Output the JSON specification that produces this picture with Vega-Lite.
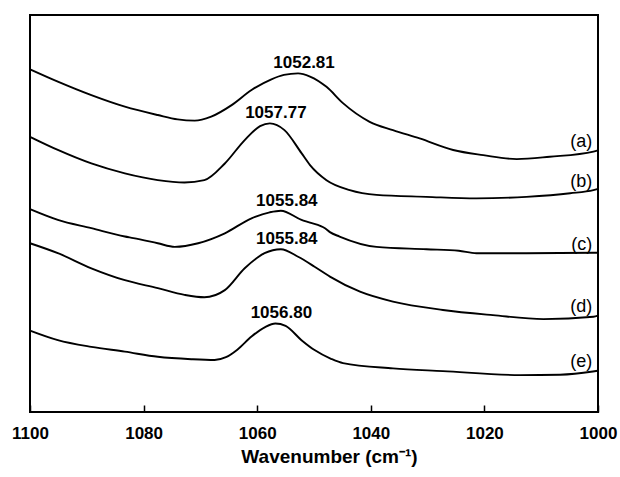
{
  "$schema": "https://vega.github.io/schema/vega-lite/v6.json",
  "width": 568,
  "height": 397,
  "autosize": {"type": "none"},
  "padding": {"left": 30, "top": 15, "right": 22, "bottom": 65},
  "background": "white",
  "config": {
    "font": "Liberation Sans",
    "view": {"stroke": "black", "strokeWidth": 2}
  },
  "datasets": {
    "spectra": [
      {"curve": "a", "wn": 1100.0, "A": 0.863},
      {"curve": "a", "wn": 1095.1, "A": 0.832},
      {"curve": "a", "wn": 1089.2, "A": 0.798},
      {"curve": "a", "wn": 1083.3, "A": 0.769},
      {"curve": "a", "wn": 1077.5, "A": 0.748},
      {"curve": "a", "wn": 1074.0, "A": 0.737},
      {"curve": "a", "wn": 1071.0, "A": 0.734},
      {"curve": "a", "wn": 1068.1, "A": 0.744},
      {"curve": "a", "wn": 1064.5, "A": 0.773},
      {"curve": "a", "wn": 1061.0, "A": 0.811},
      {"curve": "a", "wn": 1057.5, "A": 0.838},
      {"curve": "a", "wn": 1055.3, "A": 0.849},
      {"curve": "a", "wn": 1052.81, "A": 0.853},
      {"curve": "a", "wn": 1050.7, "A": 0.845},
      {"curve": "a", "wn": 1047.8, "A": 0.819},
      {"curve": "a", "wn": 1044.9, "A": 0.778},
      {"curve": "a", "wn": 1040.2, "A": 0.731},
      {"curve": "a", "wn": 1036.1, "A": 0.710},
      {"curve": "a", "wn": 1031.4, "A": 0.689},
      {"curve": "a", "wn": 1025.5, "A": 0.660},
      {"curve": "a", "wn": 1020.2, "A": 0.647},
      {"curve": "a", "wn": 1014.3, "A": 0.637},
      {"curve": "a", "wn": 1008.5, "A": 0.643},
      {"curve": "a", "wn": 1000.8, "A": 0.656},
      {"curve": "a", "wn": 1000.0, "A": 0.659},

      {"curve": "b", "wn": 1100.0, "A": 0.693},
      {"curve": "b", "wn": 1095.1, "A": 0.660},
      {"curve": "b", "wn": 1089.2, "A": 0.626},
      {"curve": "b", "wn": 1083.3, "A": 0.601},
      {"curve": "b", "wn": 1077.5, "A": 0.584},
      {"curve": "b", "wn": 1072.8, "A": 0.578},
      {"curve": "b", "wn": 1069.3, "A": 0.584},
      {"curve": "b", "wn": 1065.7, "A": 0.626},
      {"curve": "b", "wn": 1062.2, "A": 0.685},
      {"curve": "b", "wn": 1059.5, "A": 0.720},
      {"curve": "b", "wn": 1057.77, "A": 0.727},
      {"curve": "b", "wn": 1055.2, "A": 0.710},
      {"curve": "b", "wn": 1052.2, "A": 0.652},
      {"curve": "b", "wn": 1050.7, "A": 0.622},
      {"curve": "b", "wn": 1047.8, "A": 0.584},
      {"curve": "b", "wn": 1043.7, "A": 0.559},
      {"curve": "b", "wn": 1039.0, "A": 0.547},
      {"curve": "b", "wn": 1030.2, "A": 0.542},
      {"curve": "b", "wn": 1021.4, "A": 0.538},
      {"curve": "b", "wn": 1012.6, "A": 0.542},
      {"curve": "b", "wn": 1004.9, "A": 0.551},
      {"curve": "b", "wn": 1000.8, "A": 0.559},
      {"curve": "b", "wn": 1000.0, "A": 0.562},

      {"curve": "c", "wn": 1100.0, "A": 0.511},
      {"curve": "c", "wn": 1095.1, "A": 0.484},
      {"curve": "c", "wn": 1089.2, "A": 0.463},
      {"curve": "c", "wn": 1083.3, "A": 0.442},
      {"curve": "c", "wn": 1081.8, "A": 0.438},
      {"curve": "c", "wn": 1077.5, "A": 0.425},
      {"curve": "c", "wn": 1074.5, "A": 0.416},
      {"curve": "c", "wn": 1070.4, "A": 0.425},
      {"curve": "c", "wn": 1065.7, "A": 0.450},
      {"curve": "c", "wn": 1061.0, "A": 0.488},
      {"curve": "c", "wn": 1057.8, "A": 0.503},
      {"curve": "c", "wn": 1055.84, "A": 0.507},
      {"curve": "c", "wn": 1052.2, "A": 0.484},
      {"curve": "c", "wn": 1050.7, "A": 0.477},
      {"curve": "c", "wn": 1048.0, "A": 0.462},
      {"curve": "c", "wn": 1047.2, "A": 0.453},
      {"curve": "c", "wn": 1045.5, "A": 0.442},
      {"curve": "c", "wn": 1039.0, "A": 0.416},
      {"curve": "c", "wn": 1030.2, "A": 0.410},
      {"curve": "c", "wn": 1024.5, "A": 0.406},
      {"curve": "c", "wn": 1021.4, "A": 0.400},
      {"curve": "c", "wn": 1012.6, "A": 0.400},
      {"curve": "c", "wn": 1000.8, "A": 0.401},
      {"curve": "c", "wn": 1000.0, "A": 0.401},

      {"curve": "d", "wn": 1100.0, "A": 0.425},
      {"curve": "d", "wn": 1095.1, "A": 0.400},
      {"curve": "d", "wn": 1089.2, "A": 0.362},
      {"curve": "d", "wn": 1083.3, "A": 0.332},
      {"curve": "d", "wn": 1077.5, "A": 0.312},
      {"curve": "d", "wn": 1072.8, "A": 0.295},
      {"curve": "d", "wn": 1069.3, "A": 0.289},
      {"curve": "d", "wn": 1065.7, "A": 0.307},
      {"curve": "d", "wn": 1062.2, "A": 0.362},
      {"curve": "d", "wn": 1058.7, "A": 0.400},
      {"curve": "d", "wn": 1055.84, "A": 0.410},
      {"curve": "d", "wn": 1052.8, "A": 0.391},
      {"curve": "d", "wn": 1049.9, "A": 0.366},
      {"curve": "d", "wn": 1047.2, "A": 0.341},
      {"curve": "d", "wn": 1041.9, "A": 0.303},
      {"curve": "d", "wn": 1036.1, "A": 0.278},
      {"curve": "d", "wn": 1027.3, "A": 0.257},
      {"curve": "d", "wn": 1018.5, "A": 0.244},
      {"curve": "d", "wn": 1009.6, "A": 0.234},
      {"curve": "d", "wn": 1000.8, "A": 0.240},
      {"curve": "d", "wn": 1000.0, "A": 0.243},

      {"curve": "e", "wn": 1100.0, "A": 0.205},
      {"curve": "e", "wn": 1095.1, "A": 0.181},
      {"curve": "e", "wn": 1089.2, "A": 0.164},
      {"curve": "e", "wn": 1083.3, "A": 0.152},
      {"curve": "e", "wn": 1077.5, "A": 0.139},
      {"curve": "e", "wn": 1071.6, "A": 0.133},
      {"curve": "e", "wn": 1067.5, "A": 0.131},
      {"curve": "e", "wn": 1065.5, "A": 0.138},
      {"curve": "e", "wn": 1063.5, "A": 0.157},
      {"curve": "e", "wn": 1061.0, "A": 0.190},
      {"curve": "e", "wn": 1058.6, "A": 0.214},
      {"curve": "e", "wn": 1056.8, "A": 0.223},
      {"curve": "e", "wn": 1055.0, "A": 0.217},
      {"curve": "e", "wn": 1052.2, "A": 0.181},
      {"curve": "e", "wn": 1049.9, "A": 0.156},
      {"curve": "e", "wn": 1047.0, "A": 0.134},
      {"curve": "e", "wn": 1044.9, "A": 0.123},
      {"curve": "e", "wn": 1036.1, "A": 0.110},
      {"curve": "e", "wn": 1027.3, "A": 0.103},
      {"curve": "e", "wn": 1013.7, "A": 0.093},
      {"curve": "e", "wn": 1006.7, "A": 0.094},
      {"curve": "e", "wn": 1000.9, "A": 0.102},
      {"curve": "e", "wn": 1000.0, "A": 0.104}
    ],
    "peaks": [
      {"curve": "a", "peak": 1052.81, "A": 0.853},
      {"curve": "b", "peak": 1057.77, "A": 0.727},
      {"curve": "c", "peak": 1055.84, "A": 0.507},
      {"curve": "d", "peak": 1055.84, "A": 0.410},
      {"curve": "e", "peak": 1056.80, "A": 0.223}
    ],
    "tags": [
      {"tag": "(a)", "wn": 1001, "A": 0.681},
      {"tag": "(b)", "wn": 1001, "A": 0.580},
      {"tag": "(c)", "wn": 1001, "A": 0.421},
      {"tag": "(d)", "wn": 1001, "A": 0.265},
      {"tag": "(e)", "wn": 1001, "A": 0.127}
    ]
  },
  "layer": [
    {
      "data": {"name": "spectra"},
      "mark": {"type": "line", "interpolate": "monotone", "color": "black", "strokeWidth": 1.9},
      "encoding": {
        "x": {
          "field": "wn",
          "type": "quantitative",
          "scale": {"domain": [1000, 1100], "reverse": true, "nice": false, "zero": false},
          "axis": {
            "values": [1100, 1080, 1060, 1040, 1020, 1000],
            "format": "d",
            "domain": false,
            "grid": false,
            "tickSize": -7,
            "tickWidth": 1.5,
            "tickColor": "black",
            "labelPadding": 20,
            "labelFontSize": 17,
            "labelFontWeight": "bold",
            "labelColor": "black",
            "labelFlush": false,
            "labelOverlap": false,
            "title": "Wavenumber (cm⁻¹)",
            "titleFontSize": 19,
            "titleFontWeight": "bold",
            "titleColor": "black",
            "titleAlign": "center",
            "titleBaseline": "alphabetic",
            "titleX": 299,
            "titleY": 50
          }
        },
        "y": {
          "field": "A",
          "type": "quantitative",
          "scale": {"domain": [0, 1], "nice": false, "zero": false},
          "axis": null
        },
        "detail": {"field": "curve"}
      }
    },
    {
      "data": {"name": "peaks"},
      "mark": {"type": "text", "fontSize": 17, "fontWeight": "bold", "color": "black", "baseline": "middle", "align": "center", "dx": 6, "dy": -10},
      "encoding": {
        "x": {"field": "peak", "type": "quantitative"},
        "y": {"field": "A", "type": "quantitative"},
        "text": {"field": "peak", "type": "quantitative", "format": ".2f"}
      }
    },
    {
      "data": {"name": "tags"},
      "mark": {"type": "text", "fontSize": 18, "color": "black", "baseline": "middle", "align": "right"},
      "encoding": {
        "x": {"field": "wn", "type": "quantitative"},
        "y": {"field": "A", "type": "quantitative"},
        "text": {"field": "tag"}
      }
    }
  ]
}
